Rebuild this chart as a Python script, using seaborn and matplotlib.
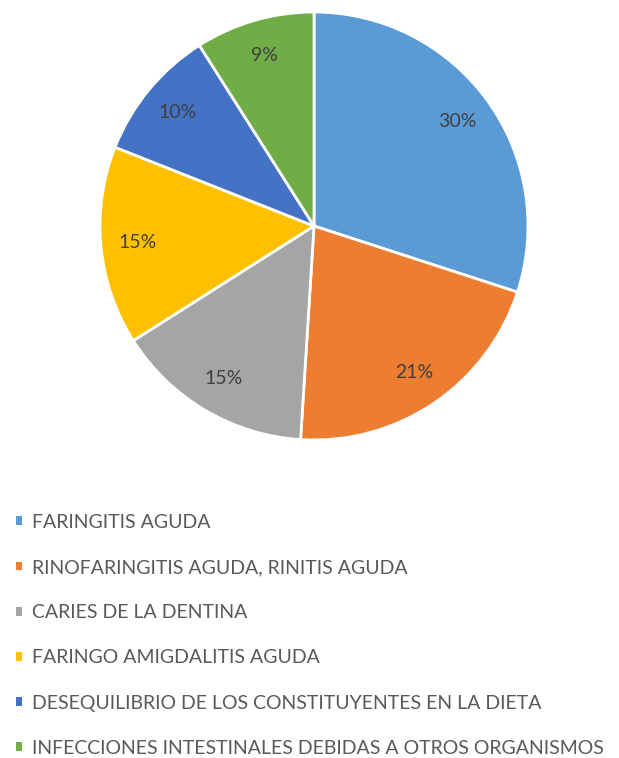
import matplotlib
matplotlib.use("Agg")
import matplotlib.pyplot as plt
from matplotlib.patches import Patch
import seaborn as sns

categories = [
    "FARINGITIS AGUDA",
    "RINOFARINGITIS AGUDA, RINITIS AGUDA",
    "CARIES DE LA DENTINA",
    "FARINGO AMIGDALITIS AGUDA",
    "DESEQUILIBRIO DE LOS CONSTITUYENTES EN LA DIETA",
    "INFECCIONES INTESTINALES DEBIDAS A OTROS ORGANISMOS",
]
shares = [30, 21, 15, 15, 10, 9]
colors = ["#5B9BD5", "#ED7D31", "#A5A5A5", "#FFC000", "#4472C4", "#70AD47"]

sns.set_theme(style="white")
plt.rcParams["font.family"] = ["Lato", "DejaVu Sans"]
palette = sns.color_palette(colors)

W, H = 619, 758
fig = plt.figure(figsize=(W / 100, H / 100), dpi=100)
fig.patch.set_facecolor("white")

cx, cy, r = 314, 226, 214
ax = fig.add_axes([(cx - r) / W, 1 - (cy + r) / H, 2 * r / W, 2 * r / H])
wedges, texts, autotexts = ax.pie(
    shares,
    colors=palette,
    startangle=90,
    counterclock=False,
    autopct=lambda p: f"{p:.0f}%",
    pctdistance=0.83,
    wedgeprops=dict(edgecolor="white", linewidth=2),
    textprops=dict(color="#404040", fontsize=14),
)
ax.set_aspect("equal")
ax.set_xlim(-1.0, 1.0)
ax.set_ylim(-1.0, 1.0)
ax.axis("off")

handles = [Patch(facecolor=c, edgecolor="none") for c in palette]
leg = fig.legend(
    handles,
    categories,
    loc="upper left",
    bbox_to_anchor=(8 / W, 1 - 506 / H),
    frameon=False,
    fontsize=14,
    handlelength=0.32,
    handleheight=0.32,
    handletextpad=0.5,
    labelspacing=1.45,
    borderaxespad=0,
)
for t in leg.get_texts():
    t.set_color("#595959")

fig.savefig("out.png", dpi=100, facecolor="white")
